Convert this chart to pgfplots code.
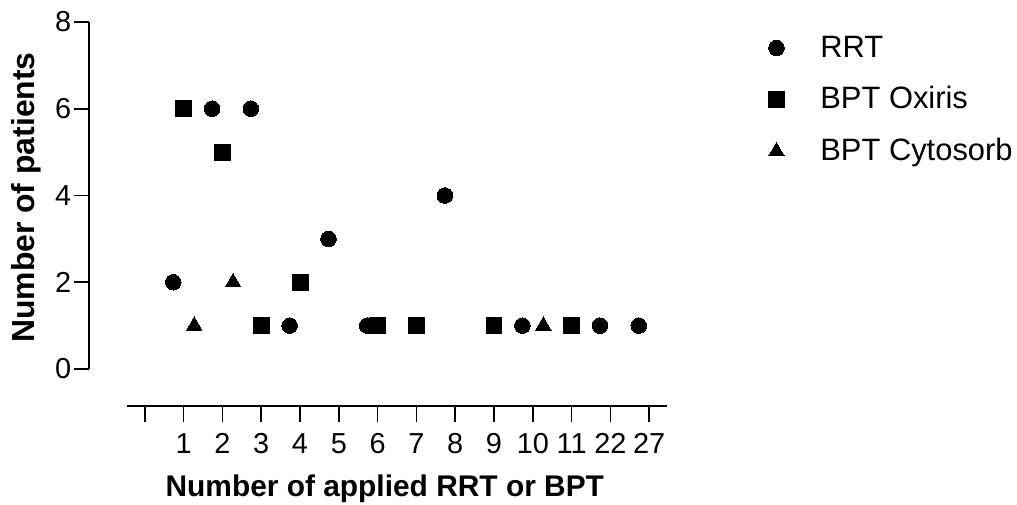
\documentclass[border=0pt]{standalone}
\usepackage{fontspec}
\setmainfont{Liberation Sans}
\usepackage{pgfplots}
\pgfplotsset{compat=1.18}

% marker shapes used for the three series
\pgfplotsset{
  rrt/.style={only marks, mark=*, mark size=7.8bp, mark options={fill=black, draw=black, line width=0pt}},
  oxi/.style={only marks, mark=square*, mark size=7.9bp, mark options={fill=black, draw=black, line width=0pt}},
  cyto/.style={only marks, mark=triangle*, mark size=8.9bp, mark options={fill=black, draw=black, line width=0pt}},
}

\begin{document}
\begin{tikzpicture}
\path[use as bounding box] (0bp,0bp) rectangle (1017bp,505bp);

% y axis, data and legend
\begin{axis}[
  at={(89bp,136bp)}, anchor=south west,
  scale only axis, width=577.7bp, height=347bp,
  xmin=-1.443, xmax=13.45, ymin=0, ymax=8,
  axis x line=none, axis y line=left,
  axis line style={-, line width=1.6bp},
  ytick={0,2,4,6,8},
  tick align=outside, major tick length=15bp,
  tick style={line width=1.6bp, black},
  yticklabel style={font=\fontsize{29}{29}\selectfont, inner sep=2.5bp},
  /pgf/number format/assume math mode=true,
  ylabel={Number of patients},
  ylabel style={font=\fontsize{32}{32}\selectfont\bfseries, at={(axis description cs:-0.0935,0.494)}, anchor=base},
  clip=false,
  legend image code/.code={\draw[#1] plot coordinates {(0bp,1.9bp)};},
  legend style={at={(axis description cs:1.176,0.9625)}, anchor=north west,
    draw=none, fill=none, inner sep=0pt, row sep=22.7bp,
    font=\fontsize{31}{31}\selectfont,
    cells={anchor=west},
    nodes={inner sep=0pt, text height=22bp, text depth=7bp},
    /tikz/every odd column/.append style={column sep=36bp}},
]
\addplot[rrt] coordinates {
  (0.73,2) (1.73,6) (2.73,6) (3.73,1) (4.73,3) (5.73,1)
  (7.73,4) (9.73,1) (11.73,1) (12.73,1)
};
\addlegendentry{RRT}
\addplot[oxi] coordinates {
  (1,6) (2,5) (3,1) (4,2) (6,1) (7,1) (9,1) (11,1)
};
\addlegendentry{BPT Oxiris}
\addplot[cyto] coordinates {
  (1.27,1) (2.27,2) (10.27,1)
};
\addlegendentry{BPT Cytosorb}
\end{axis}

% detached x axis
\begin{axis}[
  at={(126.7bp,99bp)}, anchor=south west,
  scale only axis, width=540bp, height=10bp,
  xmin=-0.465, xmax=13.45, ymin=0, ymax=1,
  axis x line=bottom, axis y line=none,
  axis line style={-, line width=1.6bp},
  xtick={0,...,13},
  xticklabels={{},1,2,3,4,5,6,7,8,9,10,11,22,27},
  tick align=outside, major tick length=15.7bp,
  tick style={line width=1.6bp, black},
  xticklabel style={font=\fontsize{29}{29}\selectfont, inner sep=0pt, yshift=-11.3bp},
  xlabel={Number of applied RRT or BPT},
  xlabel style={font=\fontsize{30}{30}\selectfont\bfseries, at={(axis description cs:0.478,-9.1)}, anchor=base},
]
\end{axis}
\end{tikzpicture}
\end{document}
